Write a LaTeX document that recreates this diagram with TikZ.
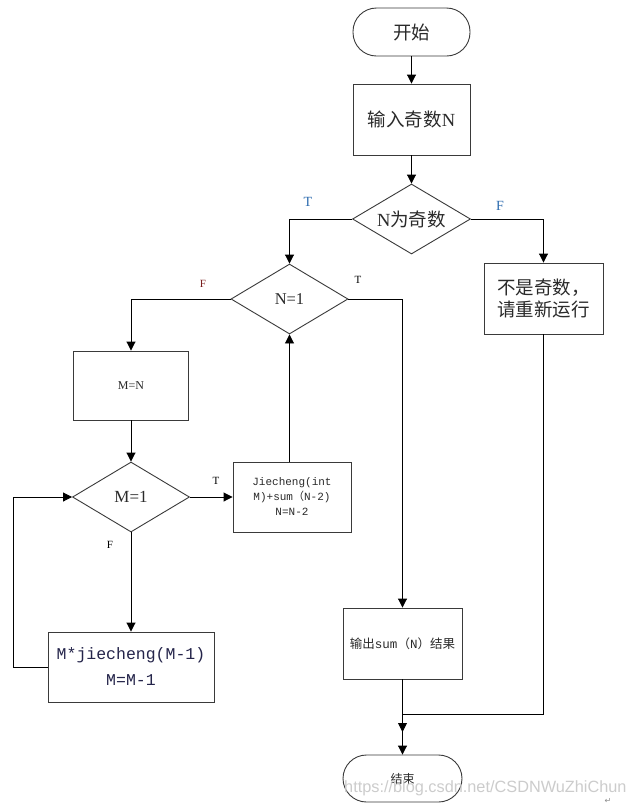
\documentclass[tikz,border=0pt]{standalone}
\usepackage{fontspec}
\setmainfont{Liberation Serif}
\newfontfamily\cjk{Noto Sans CJK SC}
\newfontfamily\mono{Liberation Mono}
\newfontfamily\wmfont{Liberation Sans}
\newfontfamily\djv{DejaVu Sans}
\usetikzlibrary{arrows.meta,shapes.geometric}
\definecolor{lblue}{HTML}{2F6DB0}
\definecolor{dred}{HTML}{7A1E1E}
\definecolor{txt}{HTML}{2A2A2A}
\definecolor{edge}{HTML}{3A3A3A}
\begin{document}
\begin{tikzpicture}[x=1pt,y=-1pt,
  every node/.style={text=txt},
  term/.style={draw=edge,line width=0.9pt,rounded corners=23.5pt,minimum width=117pt,minimum height=47pt,inner sep=0pt},
  pbox/.style={draw=edge,line width=0.9pt,rectangle,inner sep=0pt},
  dec/.style={draw=edge,line width=0.9pt,diamond,aspect=1.7,inner sep=0pt},
  arr/.style={draw=black,line width=0.9pt,-{Triangle[length=9pt,width=9pt]}},
  ln/.style={draw=black,line width=0.9pt},
  big/.style={font=\fontsize{18.5}{22}\selectfont},
  smalllab/.style={font=\fontsize{11}{12}\selectfont,inner sep=0pt}]
\useasboundingbox (0,0) rectangle (636,807);
\fill[white] (0,0) rectangle (636,807);

% nodes
\node[term,big,minimum width=117pt,minimum height=48pt] (start) at (411.5,32) {\cjk 开始};
\node[pbox,big,minimum width=117pt,minimum height=71pt] (input) at (411.5,119.5) {{\cjk 输入奇数}N};
\node[dec,big,minimum width=118pt,minimum height=70pt] (d1) at (411.5,219) {N{\cjk 为奇数}};
\node[pbox,big,minimum width=119pt,minimum height=71pt,align=center] (nodd) at (543.5,298.5) {\cjk 不是奇数，\\\cjk 请重新运行};
\node[dec,font=\fontsize{16.5}{18}\selectfont,minimum width=117pt,minimum height=70pt] (d2) at (289.5,299) {N=1};
\node[pbox,font=\fontsize{12}{14}\selectfont,minimum width=115pt,minimum height=69pt] (mn) at (131,385.5) {M=N};
\node[dec,font=\fontsize{17}{19}\selectfont,minimum width=117pt,minimum height=70pt] (d3) at (131,497) {M=1};
\node[pbox,align=center,font=\mono\fontsize{11}{15}\selectfont,minimum width=118pt,minimum height=70pt] (jie) at (292,497) {Jiecheng(int\\M)+sum{\cjk （}N-2)\\N=N-2};
\node[pbox,align=center,font=\mono\fontsize{16.5}{26}\selectfont,minimum width=166pt,minimum height=70pt,text=txt!85!blue] (mj) at (131,667) {M*jiecheng(M-1)\\M=M-1};
\node[pbox,font=\fontsize{12.5}{14}\selectfont,minimum width=119pt,minimum height=71pt] (out) at (402.5,643.5) {{\cjk 输出}{\mono sum}{\cjk （}{\mono N}{\cjk ）结果}};
\node[term,font=\fontsize{12}{14}\selectfont,minimum width=119pt,minimum height=47pt] (end) at (402.5,778.5) {\cjk 结束};

% helper coordinates
\coordinate (lp) at (13,667);
\coordinate (j1) at (402.5,714);
\coordinate (j2) at (402.5,732);

% connectors
\draw[arr] (start) -- (input);
\draw[arr] (input) -- (d1);
\draw[arr] (d1.west) -| (d2.north);
\draw[arr] (d1.east) -| (nodd.north);
\draw[arr] (d2.west) -| (mn.north);
\draw[arr] (d2.east) -| (out.north);
\draw[arr] (mn) -- (d3);
\draw[arr] (d3.east) -- (jie.west);
\draw[arr] (jie.north -| d2.south) -- (d2.south);
\draw[arr] (d3.south) -- (mj.north);
\draw[arr] (mj.west) -- (lp) |- (d3.west);
\draw[arr] (out.south) -- (j2);
\draw[arr] (nodd.south) |- (j1) -- (end.north);

% branch labels
\node[font=\fontsize{14}{16}\selectfont,text=lblue,inner sep=0pt] (t1) at (308,202) {T};
\node[font=\fontsize{14}{16}\selectfont,text=lblue,inner sep=0pt] (f1) at (500,206) {F};
\node[smalllab,text=dred] (f2) at (203,284) {F};
\node[smalllab,text=black] (t2) at (358,280) {T};
\node[smalllab,text=black] (t3) at (216,481) {T};
\node[smalllab,text=black] (f3) at (110,545) {F};

% watermark
\node[anchor=west,inner sep=0pt,font=\wmfont\fontsize{16.3}{18}\selectfont,text=black!20] (wm) at (344,788) {https://blog.csdn.net/CSDNWuZhiChun};
\node[inner sep=0pt,font=\djv\fontsize{8}{9}\selectfont,text=black!45] (ret) at (608,801) {↵};
\end{tikzpicture}
\end{document}
